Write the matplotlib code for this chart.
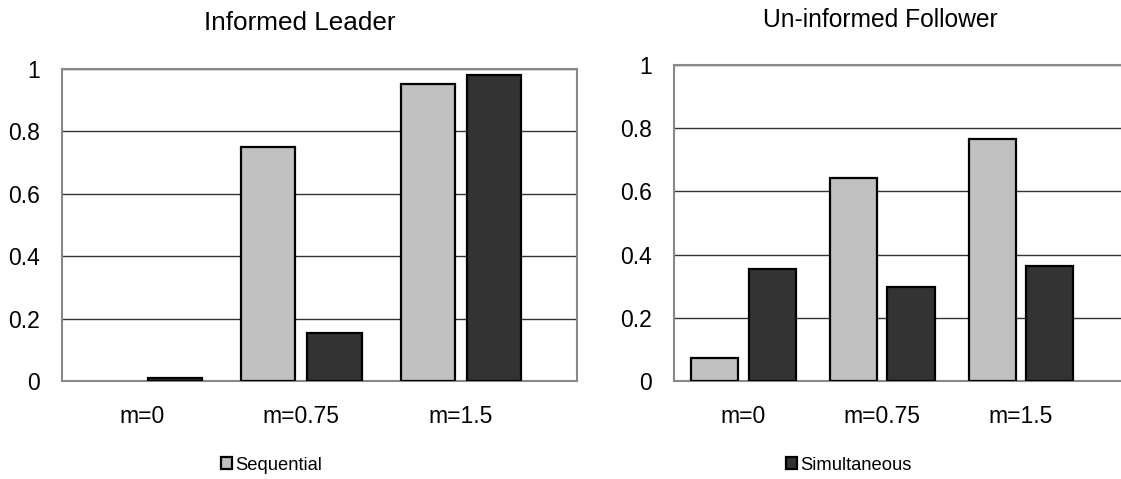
import numpy as np
import matplotlib
matplotlib.use("Agg")
import matplotlib.pyplot as plt

plt.rcParams["font.family"] = ["Liberation Sans", "DejaVu Sans"]

categories = ["m=0", "m=0.75", "m=1.5"]
leader_seq = [0.0, 0.75, 0.951]
leader_sim = [0.01, 0.154, 0.981]
follower_seq = [0.074, 0.642, 0.766]
follower_sim = [0.354, 0.296, 0.365]
titles = ["Informed Leader", "Un-informed Follower"]
yticks = [0, 0.2, 0.4, 0.6, 0.8, 1]
ytick_labels = ["0", "0.2", "0.4", "0.6", "0.8", "1"]

SEQ_COLOR = "#c0c0c0"
SIM_COLOR = "#333333"
W, H = 1121, 479

fig = plt.figure(figsize=(W / 100, H / 100), dpi=100)

ax1 = fig.add_axes([62 / W, (H - 381) / H, (577 - 62) / W, (381 - 69) / H])
ax2 = fig.add_axes([674 / W, (H - 381) / H, (W - 674) / W, (381 - 65) / H])

x = np.arange(len(categories))
width = 0.34
off = 0.207

bars = {}
for ax, seq, sim, xmax in [
    (ax1, leader_seq, leader_sim, 2.727),
    (ax2, follower_seq, follower_sim, 2.72),
]:
    b1 = ax.bar(x - off, seq, width, color=SEQ_COLOR, edgecolor="black", linewidth=1.6, zorder=3)
    b2 = ax.bar(x + off, sim, width, color=SIM_COLOR, edgecolor="black", linewidth=1.6, zorder=3)
    # zero-height bars draw nothing in the original
    for p in list(b1) + list(b2):
        if p.get_height() == 0:
            p.set_linewidth(0)
    bars["seq"], bars["sim"] = b1, b2
    ax.set_xlim(-0.5, xmax)
    ax.set_ylim(0, 1)
    ax.set_yticks(yticks)
    ax.set_yticklabels(ytick_labels)
    ax.set_xticks(x)
    ax.set_xticklabels(categories)
    ax.tick_params(axis="both", length=0, labelsize=16.5)
    ax.tick_params(axis="y", pad=16)
    ax.tick_params(axis="x", pad=17)
    ax.yaxis.grid(True, color="#333333", linewidth=1.0, zorder=0)
    ax.set_axisbelow(True)
    for sp in ax.spines.values():
        sp.set_color("#888888")
        sp.set_linewidth(1.5)

ax2.spines["right"].set_visible(False)

fig.text(300 / W, 1 - 23 / H, titles[0], ha="center", va="center", fontsize=18.8)
fig.text(880 / W, 1 - 20 / H, titles[1], ha="center", va="center", fontsize=17.7)

leg_kw = dict(frameon=False, fontsize=13.2,
              handlelength=0.6, handleheight=0.6,
              handletextpad=0.15, borderpad=0, borderaxespad=0)
fig.legend([bars["seq"]], ["Sequential"], loc="center left",
           bbox_to_anchor=(221 / W, 1 - 465 / H), **leg_kw)
fig.legend([bars["sim"]], ["Simultaneous"], loc="center left",
           bbox_to_anchor=(786 / W, 1 - 465 / H), **leg_kw)

fig.savefig("out.png", dpi=100)
